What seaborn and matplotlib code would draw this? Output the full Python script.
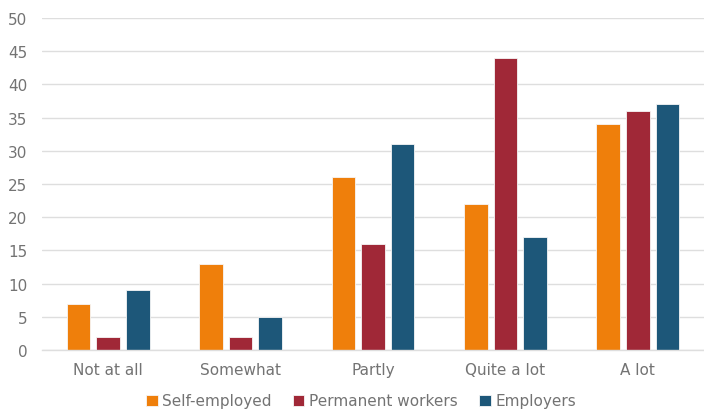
import matplotlib
matplotlib.use("Agg")
import matplotlib.pyplot as plt
import seaborn as sns
import pandas as pd

categories = ["Not at all", "Somewhat", "Partly", "Quite a lot", "A lot"]
self_employed = [7, 13, 26, 22, 34]
permanent_workers = [2, 2, 16, 44, 36]
employers = [9, 5, 31, 17, 37]
series_names = ["Self-employed", "Permanent workers", "Employers"]
colors = ["#EF7F0B", "#A02837", "#1D5779"]
y_ticks = [0, 5, 10, 15, 20, 25, 30, 35, 40, 45, 50]

rows = []
for name, vals in zip(series_names, [self_employed, permanent_workers, employers]):
    for cat, v in zip(categories, vals):
        rows.append({"category": cat, "series": name, "value": v})
df = pd.DataFrame(rows)

sns.set_theme(style="white")
plt.rcParams["font.family"] = ["DejaVu Sans"]

fig = plt.figure(figsize=(7.04, 4.10), dpi=100)
ax = fig.add_axes([42 / 704, 59 / 410, 662 / 704, 332 / 410])

sns.barplot(
    data=df, x="category", y="value", hue="series",
    order=categories, hue_order=series_names,
    palette=colors, saturation=1, width=0.67, gap=0.2,
    edgecolor="#f6f6f6", linewidth=0.6, ax=ax, legend=True,
)

ax.set_ylim(0, 50)
ax.set_xlim(-0.5, len(categories) - 0.5)
ax.set_yticks(y_ticks)
ax.yaxis.grid(True, color="#dedede", linewidth=1.0)
ax.set_axisbelow(True)
for side in ["left", "right", "top"]:
    ax.spines[side].set_visible(False)
ax.spines["bottom"].set_color("#dedede")
ax.spines["bottom"].set_linewidth(1.0)
ax.tick_params(axis="both", length=0, labelsize=11, colors="#737373")
ax.tick_params(axis="x", pad=9)
ax.tick_params(axis="y", pad=10.5)
ax.set_xlabel("")
ax.set_ylabel("")

handles, labels = ax.get_legend_handles_labels()
ax.get_legend().remove()
fig.legend(
    handles, labels, loc="center", bbox_to_anchor=(361 / 704, 8 / 410),
    ncol=3, frameon=False, fontsize=11, labelcolor="#737373",
    handlelength=0.75, handleheight=0.75, handletextpad=0.3,
    columnspacing=1.4,
)

fig.savefig("out.png", dpi=100)
